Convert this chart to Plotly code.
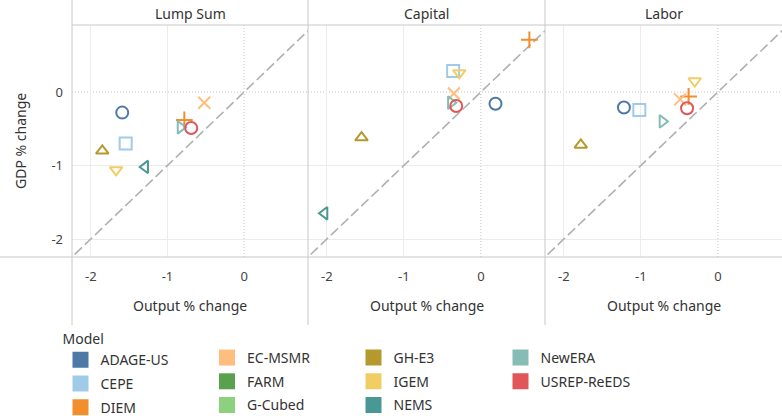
import plotly.graph_objects as go

# ---- data ----
models = ["ADAGE-US", "CEPE", "DIEM", "EC-MSMR", "FARM", "G-Cubed",
          "GH-E3", "IGEM", "NEMS", "NewERA", "USREP-ReEDS"]
colors = ["#4e79a7", "#a0cbe8", "#f28e2b", "#ffbe7d", "#59a14f", "#8cd17d",
          "#b6992d", "#f1ce63", "#499894", "#86bcb6", "#e15759"]
symbols = ["circle-open", "square-open", "cross-thin-open", "x-thin-open",
           "diamond-open", "star-open", "triangle-up-open", "triangle-down-open",
           "triangle-left-open", "triangle-right-open", "circle-open"]
sizes = [12, 12, 12, 12, 12, 12, 11, 11, 11, 11, 12]

panels = ["Lump Sum", "Capital", "Labor"]

lump_x = [-1.59, -1.545, -0.78, -0.52, None, None, -1.85, -1.67, -1.29, -0.83, -0.69]
lump_y = [-0.28, -0.70, -0.38, -0.145, None, None, -0.80, -1.06, -1.02, -0.48, -0.49]

capital_x = [0.19, -0.36, 0.63, -0.35, None, None, -1.55, -0.28, -2.03, -0.39, -0.32]
capital_y = [-0.16, 0.286, 0.71, -0.02, None, None, -0.62, 0.26, -1.65, -0.145, -0.19]

labor_x = [-1.22, -1.02, -0.38, -0.49, None, None, -1.78, -0.30, None, -0.72, -0.40]
labor_y = [-0.21, -0.245, -0.06, -0.10, None, None, -0.72, 0.15, None, -0.40, -0.22]

tick_vals = [-2, -1, 0]
tick_text = ["-2", "-1", "0"]

# ---- layout geometry (pixels) ----
W, H = 782, 416
FONT = "Noto Sans"
TXT = "#333333"
BORDER = "#c8c8c8"
GRID = "#ececec"


def fx(p):
    return p / W


def fy(p):
    return 1 - p / H


panel_left = [72, 308, 545]
panel_right = [308, 545, 782]
top_px, bottom_px = 25, 257
x_range = [-2.245, 0.833]
y_range = [-2.245, 0.912]

fig = go.Figure()
panel_data = [(lump_x, lump_y), (capital_x, capital_y), (labor_x, labor_y)]

for i, (xs, ys) in enumerate(panel_data):
    xa = "x" if i == 0 else f"x{i + 1}"
    ya = "y" if i == 0 else f"y{i + 1}"
    # 45-degree reference line
    fig.add_trace(go.Scatter(
        x=[-3, 1.5], y=[-3, 1.5], mode="lines",
        line=dict(color="#b0b0b0", width=1.6, dash="10px,4px"),
        xaxis=xa, yaxis=ya, showlegend=False, hoverinfo="skip"))
    for m, c, s, sz, xv, yv in zip(models, colors, symbols, sizes, xs, ys):
        if xv is None:
            continue
        fig.add_trace(go.Scatter(
            x=[xv], y=[yv], mode="markers", name=m, legendgroup=m,
            marker=dict(symbol=s, size=sz, color=c, line=dict(color=c, width=2)),
            xaxis=xa, yaxis=ya, showlegend=False))

# legend-only traces (colour squares), column-major in 4 legends
legend_names = ["legend", "legend2", "legend3", "legend4"]
for k, (m, c) in enumerate(zip(models, colors)):
    fig.add_trace(go.Scatter(
        x=[None], y=[None], mode="markers", name=m, legendgroup=m,
        marker=dict(symbol="square", size=16, color=c, line=dict(width=0)),
        legend=legend_names[k // 3], showlegend=True))

layout = dict(
    width=W, height=H,
    margin=dict(l=0, r=0, t=0, b=0, pad=0, autoexpand=False),
    paper_bgcolor="white", plot_bgcolor="white",
    font=dict(family=FONT, size=14, color=TXT),
    hovermode=False,
)

for i in range(3):
    sfx = "" if i == 0 else str(i + 1)
    layout["xaxis" + sfx] = dict(
        domain=[fx(panel_left[i]), fx(panel_right[i])],
        range=x_range, anchor="y" + sfx,
        tickvals=tick_vals, ticktext=tick_text,
        showgrid=False, zeroline=False, showline=False, ticks="",
        tickfont=dict(size=13, color="#444444"), ticklabelstandoff=10,
        minor=dict(tickvals=[-2, -1], showgrid=True, gridcolor=GRID, gridwidth=1),
        automargin=False, fixedrange=True)
    layout["yaxis" + sfx] = dict(
        domain=[fy(bottom_px), fy(top_px)],
        range=y_range, anchor="x" + sfx,
        tickvals=tick_vals, ticktext=tick_text,
        showticklabels=(i == 0),
        showgrid=False, zeroline=False, showline=False, ticks="",
        tickfont=dict(size=13, color="#444444"), ticklabelstandoff=8,
        minor=dict(tickvals=[-2, -1], showgrid=True, gridcolor=GRID, gridwidth=1),
        automargin=False, fixedrange=True)

legend_left = [84.5, 231, 377.5, 524.5]
legends_common = dict(
    orientation="v", xanchor="left", yanchor="top",
    bgcolor="rgba(0,0,0,0)", borderwidth=0,
    font=dict(family=FONT, size=14, color=TXT),
    tracegroupgap=2.5, itemwidth=30, itemclick=False, itemdoubleclick=False)
for j, ln in enumerate(legend_names):
    d = dict(legends_common)
    d["x"] = fx(legend_left[j] - 24)
    if j == 0:
        d["y"] = fy(326)
        d["title"] = dict(text="Model", side="top", font=dict(size=14, color=TXT))
    else:
        d["y"] = fy(342)
    layout[ln] = d

shapes = []
# panel borders
shapes.append(dict(type="line", xref="paper", yref="paper",
                   x0=fx(72), x1=1, y0=fy(top_px), y1=fy(top_px),
                   line=dict(color=BORDER, width=1)))
shapes.append(dict(type="line", xref="paper", yref="paper",
                   x0=0, x1=1, y0=fy(bottom_px), y1=fy(bottom_px),
                   line=dict(color=BORDER, width=1)))
for xl in panel_left:
    shapes.append(dict(type="line", xref="paper", yref="paper",
                       x0=fx(xl), x1=fx(xl), y0=1, y1=fy(325),
                       line=dict(color=BORDER, width=1)))
# dotted zero lines
for i in range(3):
    sfx = "" if i == 0 else str(i + 1)
    shapes.append(dict(type="line", xref="x" + sfx, yref=f"y{sfx} domain",
                       x0=0, x1=0, y0=0, y1=1, layer="below",
                       line=dict(color="#c4c4c4", width=1, dash="1px,2px")))
    shapes.append(dict(type="line", xref=f"x{sfx} domain", yref="y" + sfx,
                       x0=0, x1=1, y0=0, y1=0, layer="below",
                       line=dict(color="#c4c4c4", width=1, dash="1px,2px")))
layout["shapes"] = shapes

annotations = []
for i, name in enumerate(panels):
    cx = (panel_left[i] + panel_right[i]) / 2
    annotations.append(dict(text=name, x=fx(cx), y=fy(13), xref="paper", yref="paper",
                            showarrow=False, xanchor="center", yanchor="middle",
                            font=dict(size=14, color=TXT)))
    annotations.append(dict(text="Output % change", x=fx(cx), y=fy(305),
                            xref="paper", yref="paper", showarrow=False,
                            xanchor="center", yanchor="middle",
                            font=dict(size=14, color=TXT)))
annotations.append(dict(text="GDP % change", x=fx(20), y=fy(141), xref="paper",
                        yref="paper", showarrow=False, textangle=-90,
                        xanchor="center", yanchor="middle",
                        font=dict(size=14, color=TXT)))
layout["annotations"] = annotations

fig.update_layout(**layout)
fig.write_html("out.html",
               config={"displayModeBar": False, "staticPlot": True},
               post_script="document.body.style.margin='0';"
                           "document.body.style.overflow='hidden';")
